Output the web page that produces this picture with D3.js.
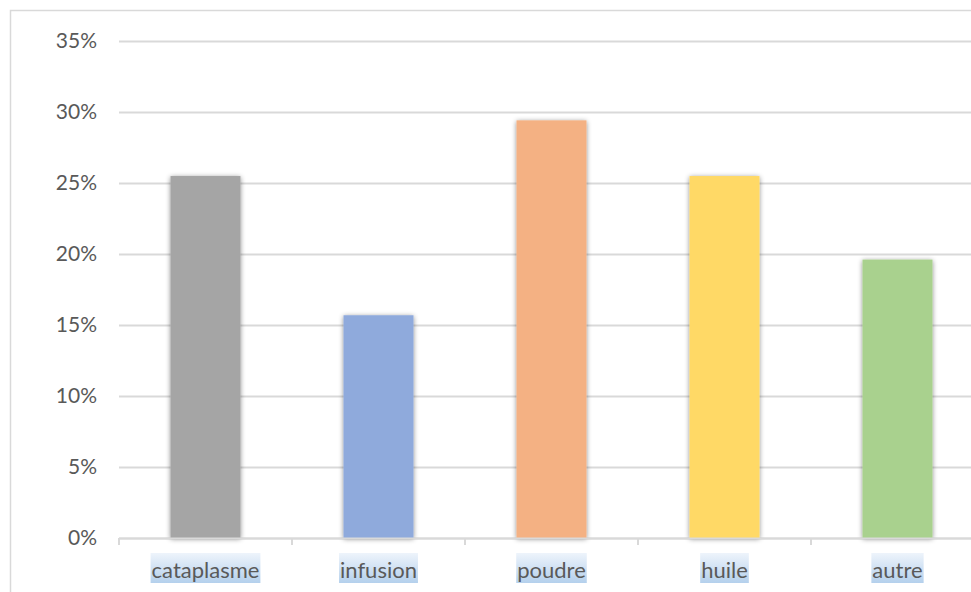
<!DOCTYPE html>
<html>
<head>
<meta charset="utf-8">
<script src="https://cdn.jsdelivr.net/npm/d3@7"></script>
<style>
  html, body { margin: 0; padding: 0; background: #fff; overflow: hidden; }
  svg { display: block; }
  text { font-family: Lato, "Open Sans", sans-serif; fill: #595959; }
</style>
</head>
<body>
<svg id="chart" width="971" height="592"></svg>
<script>
// Parts of preparation (share of 51 responses)
const categories = ["cataplasme", "infusion", "poudre", "huile", "autre"];
const values = [13 / 51, 8 / 51, 15 / 51, 13 / 51, 10 / 51];
const colors = ["#a5a5a5", "#8faadc", "#f4b183", "#ffd966", "#a9d18e"];
const yTicks = [0, 0.05, 0.10, 0.15, 0.20, 0.25, 0.30, 0.35];

const svg = d3.select("#chart");
const W = 971, H = 592;

const plot = { left: 119, right: 984, top: 41, bottom: 538 };

const x = d3.scaleBand()
  .domain(categories)
  .range([plot.left, plot.right])
  .paddingInner(1 - 70 / 173)
  .paddingOuter((1 - 70 / 173) / 2);

const y = d3.scaleLinear()
  .domain([0, 0.35])
  .range([plot.bottom, plot.top]);

const defs = svg.append("defs");
const shadow = defs.append("filter")
  .attr("id", "barShadow")
  .attr("x", "-30%").attr("y", "-10%")
  .attr("width", "160%").attr("height", "120%");
shadow.append("feDropShadow")
  .attr("dx", 0).attr("dy", 1)
  .attr("stdDeviation", 2.4)
  .attr("flood-color", "#000")
  .attr("flood-opacity", 0.45);

const grad = defs.append("linearGradient")
  .attr("id", "labelBg")
  .attr("x1", 0).attr("y1", 0).attr("x2", 0).attr("y2", 1);
grad.append("stop").attr("offset", "0%").attr("stop-color", "#eef4fb");
grad.append("stop").attr("offset", "100%").attr("stop-color", "#b4d0ec");

// chart frame
svg.append("rect")
  .attr("x", 10.5).attr("y", 10.5)
  .attr("width", W + 20).attr("height", H + 20)
  .attr("fill", "none")
  .attr("stroke", "#d9d9d9")
  .attr("stroke-width", 1.5);

// horizontal gridlines
const yAxis = d3.axisLeft(y)
  .tickValues(yTicks)
  .tickFormat(d3.format(".0%"))
  .tickSize(-(W - plot.left))
  .tickPadding(22);

const gy = svg.append("g")
  .attr("transform", `translate(${plot.left},0)`)
  .call(yAxis);
gy.select(".domain").remove();
gy.selectAll(".tick line")
  .attr("stroke", "#d9d9d9")
  .attr("stroke-width", 2);
gy.selectAll(".tick text")
  .attr("font-size", 21)
  .attr("font-family", "Lato, sans-serif")
  .attr("fill", "#595959");

// bars
svg.append("g")
  .selectAll("rect")
  .data(categories)
  .join("rect")
  .attr("x", d => x(d))
  .attr("y", (d, i) => y(values[i]))
  .attr("width", x.bandwidth())
  .attr("height", (d, i) => y(0) - y(values[i]))
  .attr("fill", (d, i) => colors[i])
  .attr("filter", "url(#barShadow)");

// category axis line with boundary ticks
const gx = svg.append("g");
gx.append("line")
  .attr("x1", plot.left).attr("x2", plot.right)
  .attr("y1", y(0) + 0.5).attr("y2", y(0) + 0.5)
  .attr("stroke", "#d9d9d9")
  .attr("stroke-width", 2);
const step = x.step();
gx.selectAll(".bound")
  .data(d3.range(categories.length + 1))
  .join("line")
  .attr("class", "bound")
  .attr("x1", i => plot.left + i * step)
  .attr("x2", i => plot.left + i * step)
  .attr("y1", y(0))
  .attr("y2", y(0) + 7)
  .attr("stroke", "#d9d9d9")
  .attr("stroke-width", 2);

// category labels on a highlighted band
const labels = svg.append("g")
  .selectAll("g")
  .data(categories)
  .join("g");
labels.append("text")
  .attr("x", d => x(d) + x.bandwidth() / 2)
  .attr("y", 578)
  .attr("text-anchor", "middle")
  .attr("font-size", 22)
  .text(d => d);
labels.each(function () {
  const t = d3.select(this).select("text");
  const bb = t.node().getBBox();
  d3.select(this).insert("rect", "text")
    .attr("x", bb.x - 1)
    .attr("y", 553)
    .attr("width", bb.width + 2)
    .attr("height", 30)
    .attr("fill", "url(#labelBg)");
});
</script>
</body>
</html>
